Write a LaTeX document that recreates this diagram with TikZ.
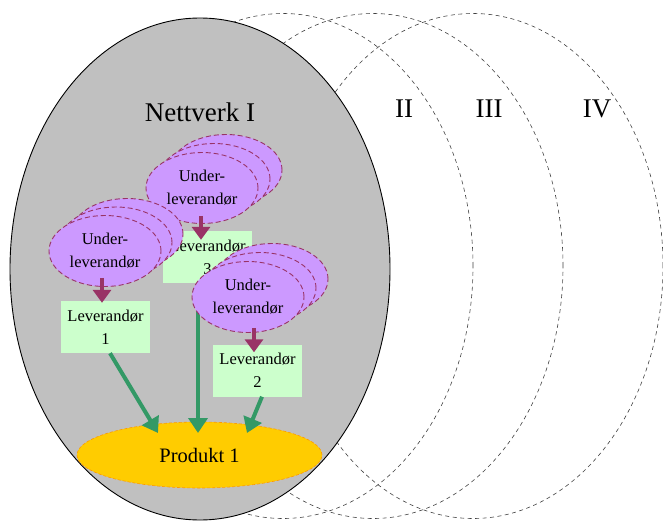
\documentclass[tikz,border=0pt]{standalone}
\usepackage{fontspec}
\setmainfont{Liberation Serif}
\usetikzlibrary{shapes.geometric,arrows.meta,calc}
\definecolor{netgray}{HTML}{C0C0C0}
\definecolor{purp}{HTML}{CC99FF}
\definecolor{maroon}{HTML}{993366}
\definecolor{levgreen}{HTML}{CCFFCC}
\definecolor{arrgreen}{HTML}{339966}
\definecolor{prodyellow}{HTML}{FFCC00}
\definecolor{prodorange}{HTML}{FF9900}
\begin{document}
\begin{tikzpicture}[x=1pt,y=-1pt,
  net/.style={ellipse, draw=black!75, dash pattern=on 4pt off 3.5pt, line width=0.6pt,
    minimum width=380pt, minimum height=505pt, inner sep=0pt},
  mainnet/.style={ellipse, draw=black, fill=netgray, line width=0.9pt,
    minimum width=380pt, minimum height=502pt, inner sep=0pt},
  biglbl/.style={anchor=base, inner sep=0pt, font=\fontsize{27}{30}\selectfont},
  sub/.style={ellipse, fill=purp, draw=maroon, dash pattern=on 5pt off 3pt, line width=0.9pt,
    minimum width=112pt, minimum height=71pt, inner sep=0pt, align=center,
    font=\fontsize{16.5}{23}\selectfont},
  lev/.style={rectangle, fill=levgreen, minimum width=89pt, minimum height=52pt,
    inner sep=0pt, align=center, font=\fontsize{16.5}{23}\selectfont},
  prod/.style={ellipse, fill=prodyellow, draw=prodorange, dash pattern=on 3pt off 2pt,
    line width=0.6pt, minimum width=245pt, minimum height=66pt, inner sep=0pt,
    font=\fontsize{20.5}{24}\selectfont},
  marr/.style={draw=maroon, line width=4pt, -{Triangle[width=18pt,length=13pt]}},
  garr/.style={draw=arrgreen, line width=4pt, -{Triangle[width=19pt,length=15pt]}}
]
\useasboundingbox (0,0) rectangle (663,521);
% network ellipses
\node[net] (n4) at (473,266) {};
\node[net] (n3) at (373,266) {};
\node[net] (n2) at (283,266) {};
\node[mainnet] (n1) at (200,269) {};
\node[biglbl] (t1) at (200,122) {Nettverk I};
\node[biglbl] (t2) at (404,118) {II};
\node[biglbl] (t3) at (489,118) {III};
\node[biglbl] (t4) at (597,118) {IV};
% product
\node[prod] (p) at (199.5,455) {Produkt 1};
% cluster A
\node[sub] (a3) at (226,170) {};
\node[sub] (a2) at (214,179) {};
\node[sub] (a1) at (202,188) {Under-\\leverandør};
\node[lev] (l3) at (207.5,257) {Leverandør\\3};
\draw[marr] ($(a1.south)+(-1,-8)$) -- ($(a1.south |- l3.north)+(-1,9)$);
\draw[garr] ($(l3.south)+(-9.5,0)$) -- ($(p.center)+(-1.5,-22)$);
% cluster B
\node[sub] (b3) at (127,234) {};
\node[sub] (b2) at (116,242.5) {};
\node[sub] (b1) at (105,251) {Under-\\leverandør};
\node[lev] (l1) at (105.5,327) {Leverandør\\1};
\draw[marr] ($(b1.south)+(-3,-9)$) -- ($(b1.south |- l1.north)+(-3,2)$);
% cluster C
\node[sub] (c3) at (272,279) {};
\node[sub] (c2) at (260,288) {};
\node[sub] (c1) at (248,297) {Under-\\leverandør};
\node[lev] (l2) at (257.5,370.5) {Leverandør\\2};
\draw[marr] ($(c1.south)+(6,-5)$) -- ($(c1.south |- l2.north)+(6,8)$);
% green arrows
\draw[garr] ($(l1.south)+(4.5,0)$) -- ($(p.center)+(-41.5,-22)$);
\draw[garr] ($(l2.south)+(4.5,0)$) -- ($(p.center)+(47.5,-22)$);
\end{tikzpicture}
\end{document}
